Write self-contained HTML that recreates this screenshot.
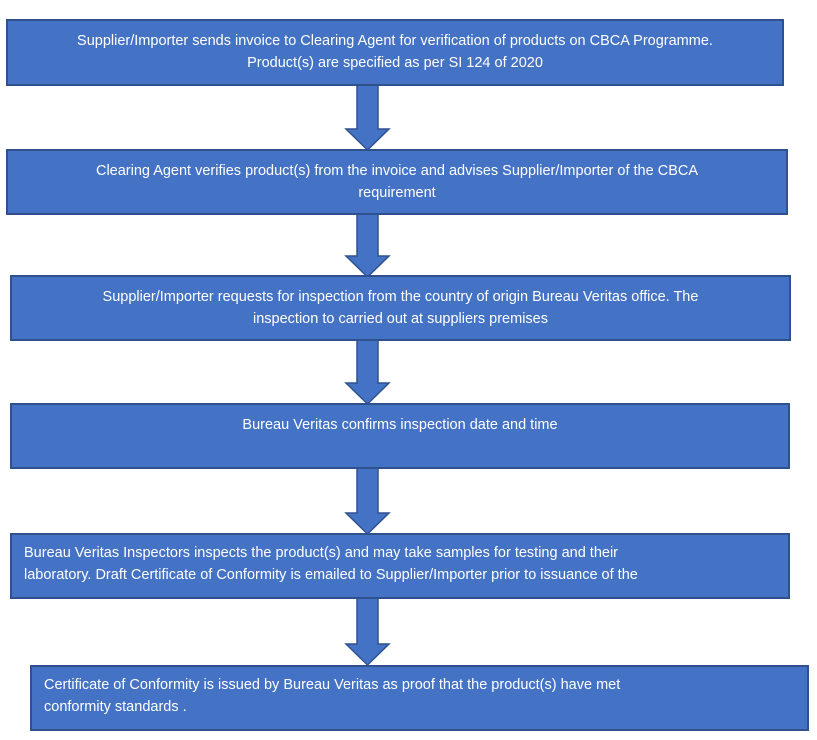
<!DOCTYPE html>
<html><head><style>
body{margin:0;width:817px;height:740px;background:#fff;position:relative;overflow:hidden;font-family:"Liberation Sans",sans-serif;}
.b{position:absolute;box-sizing:border-box;background:#4472C4;border:2px solid #2F528F;color:#fff;font-size:14.5px;line-height:22px;}
.c{text-align:center;padding-top:9px;}
.l{text-align:left;padding:7px 0 0 12px;}
svg{position:absolute;left:0;top:0;}
</style></head><body>
<svg width="817" height="740">
<g fill="#4472C4" stroke="#2F528F" stroke-width="1.5">
<path d="M357,85 H378 V129 H389 L367.5,150 L346,129 H357 Z"/>
<path d="M357,214 H378 V256 H389 L367.5,277 L346,256 H357 Z"/>
<path d="M357,340 H378 V383 H389 L367.5,404 L346,383 H357 Z"/>
<path d="M357,468 H378 V513 H389 L367.5,534 L346,513 H357 Z"/>
<path d="M357,598 H378 V644 H389 L367.5,665 L346,644 H357 Z"/>
</g></svg>
<div class="b c" style="left:6px;top:19px;width:778px;height:67px;">Supplier/Importer sends invoice to Clearing Agent for verification of products on CBCA Programme.<br>Product(s) are specified as per SI 124 of 2020</div>
<div class="b c" style="left:6px;top:149px;width:782px;height:66px;">Clearing Agent verifies product(s) from the invoice and advises Supplier/Importer of the CBCA<br>requirement</div>
<div class="b c" style="left:10px;top:275px;width:781px;height:66px;">Supplier/Importer requests for inspection from the country of origin Bureau Veritas office. The<br>inspection to carried out at suppliers premises</div>
<div class="b c" style="left:10px;top:403px;width:780px;height:66px;">Bureau Veritas confirms inspection date and time</div>
<div class="b l" style="left:10px;top:533px;width:780px;height:66px;">Bureau Veritas Inspectors inspects the product(s) and may take samples for testing and their<br>laboratory. Draft Certificate of Conformity is emailed to Supplier/Importer prior to issuance of the</div>
<div class="b l" style="left:30px;top:665px;width:779px;height:66px;">Certificate of Conformity is issued by Bureau Veritas as proof that the product(s) have met<br>conformity standards .</div>
</body></html>
